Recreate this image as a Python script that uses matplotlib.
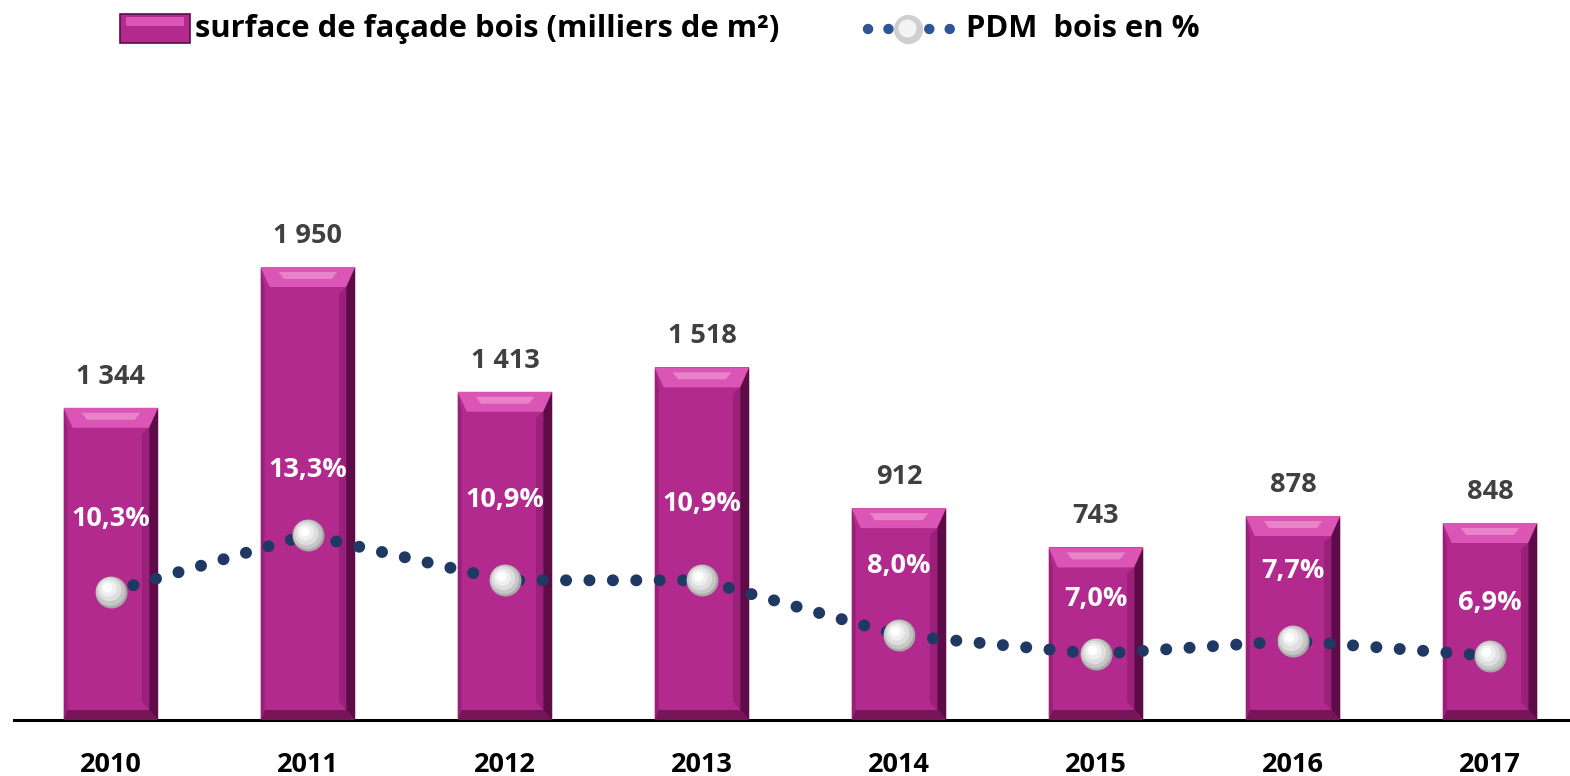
import matplotlib
matplotlib.use("Agg")
import matplotlib.pyplot as plt
from matplotlib.patches import Rectangle, Polygon
from matplotlib.lines import Line2D
from matplotlib.transforms import offset_copy
import numpy as np

# ---- data ----
years = ["2010", "2011", "2012", "2013", "2014", "2015", "2016", "2017"]
surface = [1344, 1950, 1413, 1518, 912, 743, 878, 848]
pdm = [10.3, 13.3, 10.9, 10.9, 8.0, 7.0, 7.7, 6.9]
surface_labels = ["1 344", "1 950", "1 413", "1 518", "912", "743", "878", "848"]
pdm_labels = ["10,3%", "13,3%", "10,9%", "10,9%", "8,0%", "7,0%", "7,7%", "6,9%"]

# ---- style ----
FONT = ["Open Sans", "DejaVu Sans"]
plt.rcParams['font.family'] = FONT
W, H, DPI = 1570, 776, 100
pct_offsets_px = [73, 65, 80, 76, 69, 55, 70, 53]
LABEL_FS = 19.5

BAR_MAIN = "#B32A8E"
BAR_TOP = "#DA55B4"
BAR_TOP_HI = "#EC8FCF"
BAR_RIGHT = "#5E0C48"
BAR_BOTTOM = "#761659"
BAR_LEFT = "#98207A"
NAVY = "#1F3864"

fig = plt.figure(figsize=(W / DPI, H / DPI), dpi=DPI)
ax_left_px, ax_right_px = 14, 1570
ax_bottom_px, ax_top_px = 720, 80
ax = fig.add_axes([ax_left_px / W, (H - ax_bottom_px) / H,
                   (ax_right_px - ax_left_px) / W, (ax_bottom_px - ax_top_px) / H])
x = np.arange(len(years))
xmin, xmax = -0.492, 7.406
ymax = 2755
ax.set_xlim(xmin, xmax)
ax.set_ylim(0, ymax)

# pixel -> data conversions
ax_w_px = ax_right_px - ax_left_px
ax_h_px = ax_bottom_px - ax_top_px
dxp = (xmax - xmin) / ax_w_px
dyp = ymax / ax_h_px

bw = 0.48
bars = ax.bar(x, surface, width=bw, color=BAR_MAIN, zorder=2)
for xi, h in zip(x, surface):
    l, r = xi - bw / 2, xi + bw / 2
    bt = 20 * dyp   # top bevel
    bb = 10 * dyp   # bottom bevel
    bs = 9 * dxp    # side bevel
    bl = 4 * dxp
    ax.add_patch(Polygon([(l, h), (r, h), (r - bs, h - bt), (l + bs, h - bt)],
                         closed=True, color=BAR_TOP, lw=0, zorder=3))
    ax.add_patch(Polygon([(l + 2 * bs, h - 0.25 * bt), (r - 2 * bs, h - 0.25 * bt),
                          (r - 2.6 * bs, h - 0.6 * bt), (l + 2.6 * bs, h - 0.6 * bt)],
                         closed=True, color=BAR_TOP_HI, lw=0, zorder=3, alpha=0.8))
    ax.add_patch(Polygon([(r, h), (r, 0), (r - bs, bb), (r - bs, h - bt)],
                         closed=True, color=BAR_RIGHT, lw=0, zorder=3))
    ax.add_patch(Polygon([(r - bs, h - bt), (r - bs, bb), (r - 1.8 * bs, 1.8 * bb),
                          (r - 1.8 * bs, h - 1.3 * bt)],
                         closed=True, color="#8A1A6C", lw=0, zorder=3, alpha=0.6))
    ax.add_patch(Polygon([(l, h), (l, 0), (l + bl, bb), (l + bl, h - bt)],
                         closed=True, color=BAR_LEFT, lw=0, zorder=3))
    ax.add_patch(Polygon([(l, 0), (r, 0), (r - bs, bb), (l + bl, bb)],
                         closed=True, color=BAR_BOTTOM, lw=0, zorder=3))

for xi, h, lab in zip(x, surface, surface_labels):
    ax.annotate(lab, (xi, h), xytext=(0, 31 * 0.72), textcoords="offset points",
                ha="center", va="center", fontsize=LABEL_FS, fontweight="bold",
                color="#404040", zorder=6)

for s in ["top", "right", "left"]:
    ax.spines[s].set_visible(False)
ax.spines["bottom"].set_linewidth(2.2)
ax.spines["bottom"].set_color("black")
ax.set_yticks([])
ax.set_xticks(x)
ax.set_xticklabels(years, fontsize=LABEL_FS, fontweight="bold")
ax.tick_params(axis="x", length=0, pad=23)

# secondary axis
ax2 = ax.twinx()
ax2.set_ylim(3.51, 37.37)
ax2.set_axis_off()
ax2.plot(x, pdm, color=NAVY, lw=8.6, linestyle=(0, (0.01, 1.95)),
         dash_capstyle="round", zorder=4)
for ms, col, off in [(23, "#a8a8a8", 0), (21, "#c6c6c6", -0.8), (17, "#dedede", -1.6),
                     (12, "#efefef", -2.4), (7, "#ffffff", -3.0)]:
    tr = offset_copy(ax2.transData, fig=fig, x=off, y=-off, units="points")
    ax2.plot(x, pdm, "o", ms=ms, mfc=col, mec="none", zorder=5, transform=tr)
for xi, v, lab, off in zip(x, pdm, pdm_labels, pct_offsets_px):
    ax2.annotate(lab, (xi, v), xytext=(0, off * 0.72), textcoords="offset points",
                 ha="center", va="center", fontsize=LABEL_FS, fontweight="bold",
                 color="white", zorder=6)

# ---- legend (figure coords) ----
def fx(px):
    return px / W

def fy(py):
    return (H - py) / H

lx0, lx1, ly0, ly1 = 120, 190, 14, 43
fig.patches.append(Rectangle((fx(lx0), fy(ly1)), fx(lx1) - fx(lx0), fy(ly0) - fy(ly1),
                             transform=fig.transFigure, facecolor=BAR_MAIN,
                             edgecolor=BAR_RIGHT, lw=1.2, zorder=3))
fig.patches.append(Rectangle((fx(lx0 + 6), fy(ly0 + 12)), fx(lx1 - 6) - fx(lx0 + 6),
                             fy(ly0 + 3) - fy(ly0 + 12), transform=fig.transFigure,
                             facecolor=BAR_TOP, edgecolor="none", zorder=4))
fig.text(fx(195), fy(29), "surface de façade bois (milliers de m²)", fontsize=22.3,
         fontweight="bold", ha="left", va="center", color="black")

leg_line = Line2D([fx(868), fx(958)], [fy(29), fy(29)], transform=fig.transFigure,
                  color="#2F5597", lw=7.5, linestyle=(0, (0.01, 1.95)),
                  dash_capstyle="round")
fig.lines.append(leg_line)
fig.lines.append(Line2D([fx(908)], [fy(29)], transform=fig.transFigure, marker="o",
                        ms=21, mfc="#cfcfcf", mec="none", lw=0))
fig.lines.append(Line2D([fx(907)], [fy(28)], transform=fig.transFigure, marker="o",
                        ms=13, mfc="#f4f4f4", mec="none", lw=0))
fig.text(fx(966), fy(29), "PDM  bois en %", fontsize=22.3, fontweight="bold",
         ha="left", va="center", color="black")

fig.savefig("out.png", dpi=DPI)
